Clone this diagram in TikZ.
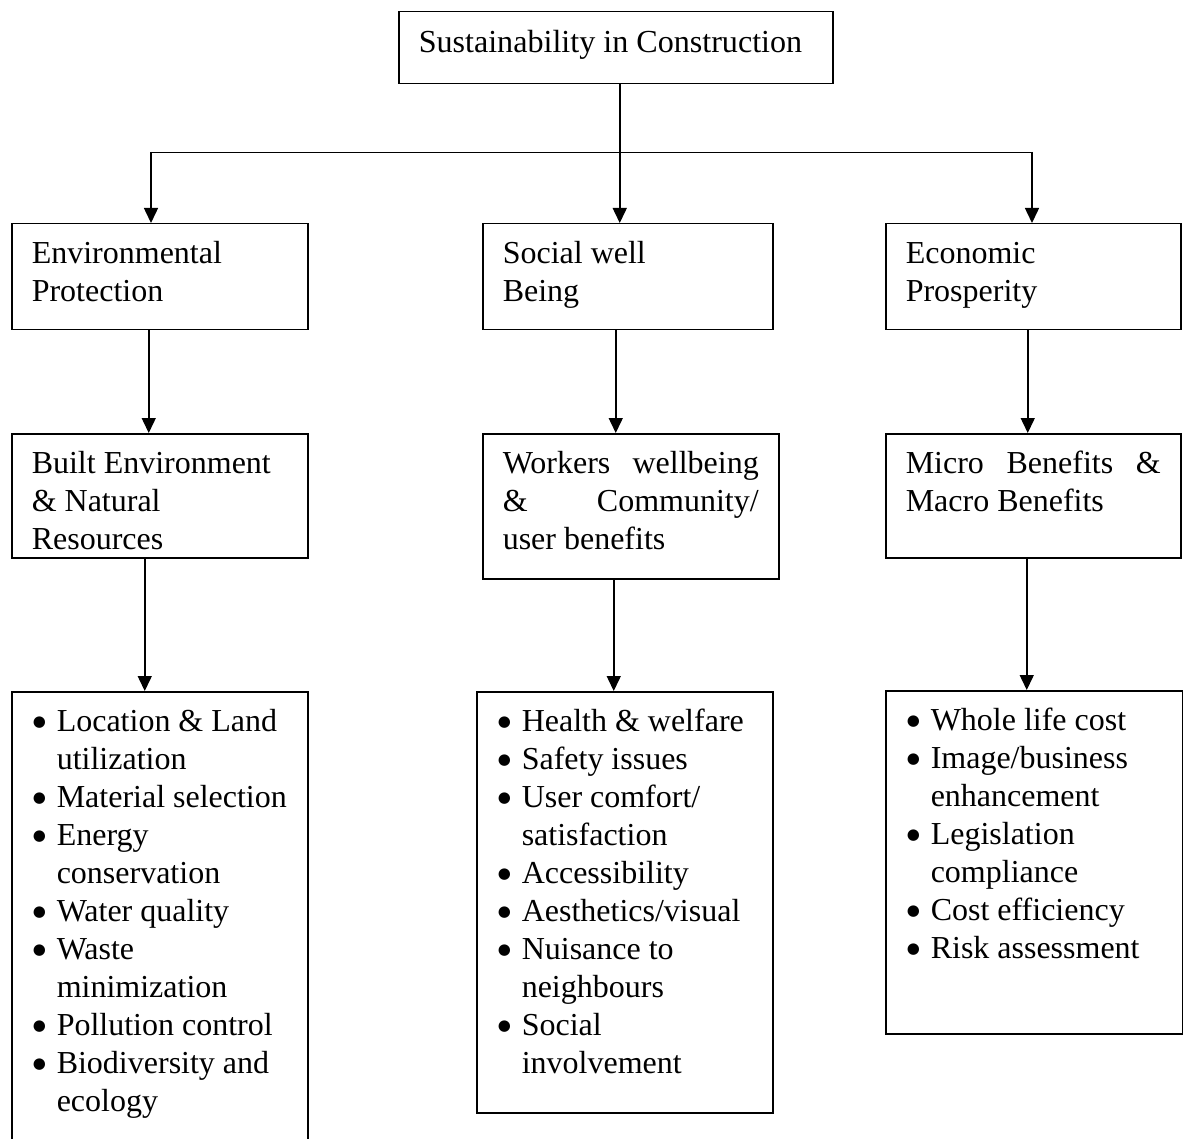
\documentclass[tikz,border=0pt]{standalone}
\usepackage{fontspec}
\setmainfont{Liberation Serif}
\newfontfamily\markfont{DejaVu Sans}
\usetikzlibrary{arrows.meta}

\newcommand{\bodysize}{\fontsize{32}{38}\selectfont}
\newcommand{\titlesize}{\fontsize{32.1}{40}\selectfont}
\newcommand{\boxbody}[3]{\parbox[b][#2][t]{#1}{\raggedright\strut #3}}
\newcommand{\listbody}[3]{\parbox[b][#2][t]{#1}{#3}}
\newcommand{\dotmark}{\raisebox{5pt}{\markfont\fontsize{15}{15}\selectfont ●}}
\newcommand{\bul}[1]{\par\hangindent = 25pt\hangafter = 1\strut\hspace*{1pt}\makebox[24pt][l]{\dotmark}#1}

\begin{document}
\begin{tikzpicture}[x = 1pt, y = -1pt,
                    box/.style = {draw, line width = 1.5pt, anchor = north west,
                                  inner xsep = 20pt, inner ysep = 13pt, font = \bodysize},
                    arrow/.style = {line width = 1.5pt, -{Triangle[width = 14pt, length = 15pt]}}]
  \useasboundingbox (0, 0) rectangle (1183, 1139);

  \node (title) [box, font = \titlesize] at (398, 11)
        {\boxbody{394pt}{46pt}{\mbox{Sustainability in Construction}}};

  \node (env)   [box] at (11, 223)  {\boxbody{256pt}{80pt}{Environmental\\ Protection}};
  \node (soc)   [box] at (482, 223) {\boxbody{250pt}{80pt}{Social well\\ Being}};
  \node (eco)   [box] at (885, 223) {\boxbody{255pt}{80pt}{Economic\\ Prosperity}};

  \node (built) [box] at (11, 433)  {\boxbody{256pt}{98pt}{Built Environment\\ \& Natural\\ Resources}};
  \node (work)  [box] at (482, 433) {\boxbody{256pt}{119pt}{Workers \hfill wellbeing\\ \& \hfill Community/\\ user benefits}};
  \node (micro) [box] at (885, 433) {\boxbody{255pt}{98pt}{Micro \hfill Benefits \hfill \&\\ Macro Benefits}};

  \node (envlist) [box] at (11, 691) {\listbody{256pt}{443pt}{%
        \bul{Location \& Land\\ utilization}
        \bul{Material selection}
        \bul{Energy\\ conservation}
        \bul{Water quality}
        \bul{Waste\\ minimization}
        \bul{Pollution control}
        \bul{Biodiversity and\\ ecology}}};
  \node (soclist) [box] at (476, 691) {\listbody{256pt}{395pt}{%
        \bul{Health \& welfare}
        \bul{Safety issues}
        \bul{User comfort/\\ satisfaction}
        \bul{Accessibility}
        \bul{Aesthetics/visual}
        \bul{Nuisance to\\ neighbours}
        \bul{Social\\ involvement}}};
  \node (ecolist) [box] at (885, 690) {\listbody{257pt}{317pt}{%
        \bul{Whole life cost}
        \bul{Image/business\\ enhancement}
        \bul{Legislation\\ compliance}
        \bul{Cost efficiency}
        \bul{Risk assessment}}};

  \coordinate (busl) at (151, 152);
  \coordinate (busr) at (1032, 152);
  \coordinate (t1) at ([xshift = 4pt] title.south);
  \coordinate (w1) at ([xshift = -17pt] work.south);
  \coordinate (s1) at ([xshift = -12pt] soc.south);
  \coordinate (m1) at ([xshift = -6.5pt] micro.south);

  \draw (busl) -- (busr);
  \draw [arrow] (t1) -- (t1 |- soc.north);
  \draw [arrow] (busl) -- (busl |- env.north);
  \draw [arrow] (busr) -- (busr |- eco.north);

  \draw [arrow] ([xshift = -11pt] env.south) -- ([xshift = -11pt] built.north);
  \draw [arrow] (s1) -- (s1 |- work.north);
  \draw [arrow] ([xshift = -5.5pt] eco.south) -- ([xshift = -5.5pt] micro.north);

  \draw [arrow] ([xshift = -15pt] built.south) -- ([xshift = -15pt] envlist.north);
  \draw [arrow] (w1) -- (w1 |- soclist.north);
  \draw [arrow] (m1) -- (m1 |- ecolist.north);
\end{tikzpicture}
\end{document}
